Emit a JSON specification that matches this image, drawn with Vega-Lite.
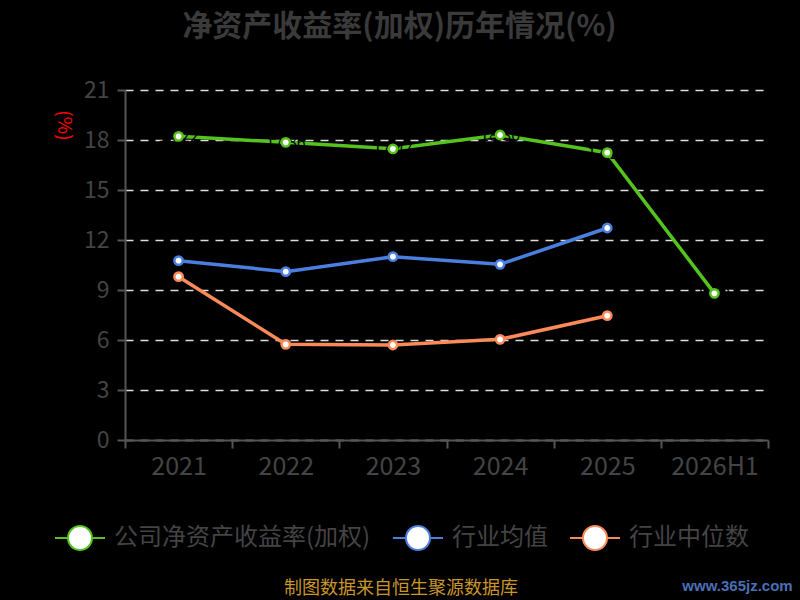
{
  "$schema": "https://vega.github.io/schema/vega-lite/v6.json",
  "autosize": {"type": "none"},
  "padding": {"left": 125, "top": 90, "right": 32, "bottom": 160},
  "width": 643,
  "height": 350,
  "background": "#000000",
  "config": {
    "view": {"stroke": null},
    "font": "Noto Sans CJK SC"
  },
  "title": {
    "text": "净资产收益率(加权)历年情况(%)",
    "fontSize": 30,
    "fontWeight": "bold",
    "color": "#3a3a3a",
    "anchor": "middle",
    "dx": -47,
    "offset": 37,
    "limit": 700
  },
  "data": {
    "values": [
      {"year": "2021", "series": "公司净资产收益率(加权)", "value": 18.22},
      {"year": "2022", "series": "公司净资产收益率(加权)", "value": 17.86},
      {"year": "2023", "series": "公司净资产收益率(加权)", "value": 17.47},
      {"year": "2024", "series": "公司净资产收益率(加权)", "value": 18.30},
      {"year": "2025", "series": "公司净资产收益率(加权)", "value": 17.24},
      {"year": "2026H1", "series": "公司净资产收益率(加权)", "value": 8.80},
      {"year": "2021", "series": "行业均值", "value": 10.76},
      {"year": "2022", "series": "行业均值", "value": 10.10},
      {"year": "2023", "series": "行业均值", "value": 11.00},
      {"year": "2024", "series": "行业均值", "value": 10.54},
      {"year": "2025", "series": "行业均值", "value": 12.72},
      {"year": "2021", "series": "行业中位数", "value": 9.80},
      {"year": "2022", "series": "行业中位数", "value": 5.74},
      {"year": "2023", "series": "行业中位数", "value": 5.70},
      {"year": "2024", "series": "行业中位数", "value": 6.04},
      {"year": "2025", "series": "行业中位数", "value": 7.46}
    ]
  },
  "encoding": {
    "x": {
      "field": "year",
      "type": "ordinal",
      "bandPosition": 0.5,
      "sort": ["2021", "2022", "2023", "2024", "2025", "2026H1"],
      "scale": {"type": "band", "domain": ["2021", "2022", "2023", "2024", "2025", "2026H1"], "paddingInner": 0, "paddingOuter": 0},
      "axis": {
        "title": "www.365jz.com",
        "titleColor": "#4a6fb5",
        "titleFontSize": 15,
        "titleFontWeight": "bold",
        "titleFont": "Liberation Sans",
        "titleX": 612,
        "titleY": 145,
        "titleAlign": "center",
        "titleBaseline": "middle",
        "titleLimit": 200,
        "labelAngle": 0,
        "labelFontSize": 25,
        "labelColor": "#444444",
        "labelPadding": 6,
        "tickBand": "extent",
        "tickSize": 8,
        "tickColor": "#555555",
        "tickWidth": 2,
        "domainColor": "#555555",
        "domainWidth": 2,
        "grid": false
      }
    },
    "y": {
      "field": "value",
      "type": "quantitative",
      "scale": {"domain": [0, 21], "nice": false},
      "axis": {
        "title": "(%)",
        "titleColor": "#ff0000",
        "titleFontSize": 19,
        "titleFontWeight": "normal",
        "titleAngle": 90,
        "titleX": -62,
        "titleY": 35,
        "titleAlign": "center",
        "titleBaseline": "middle",
        "values": [0, 3, 6, 9, 12, 15, 18, 21],
        "labelFontSize": 23,
        "labelColor": "#444444",
        "labelPadding": 8,
        "tickSize": 8,
        "tickColor": "#555555",
        "tickWidth": 2,
        "domainColor": "#555555",
        "domainWidth": 2,
        "grid": true,
        "gridColor": "#dddddd",
        "gridDash": [8, 7],
        "gridWidth": 1.5
      }
    },
    "color": {
      "field": "series",
      "type": "nominal",
      "sort": ["公司净资产收益率(加权)", "行业均值", "行业中位数"],
      "scale": {
        "domain": ["公司净资产收益率(加权)", "行业均值", "行业中位数"],
        "range": ["#55c21d", "#4a7fdf", "#fa8b58"]
      },
      "legend": {
        "orient": "none",
        "direction": "horizontal",
        "legendX": -71,
        "legendY": 422,
        "padding": 0,
        "title": "制图数据来自恒生聚源数据库",
        "titleOrient": "bottom",
        "titleAnchor": "middle",
        "titleColor": "#c8962a",
        "titleFontSize": 18,
        "titleFontWeight": "normal",
        "titlePadding": 26,
        "titleLimit": 600,
        "symbolType": "M-1,0L-0.48,0M0.48,0L1,0M-0.48,0A0.48,0.48,0,1,1,0.48,0A0.48,0.48,0,1,1,-0.48,0",
        "symbolSize": 2500,
        "symbolFillColor": "#ffffff",
        "symbolStrokeWidth": 2,
        "labelFontSize": 24,
        "labelColor": "#444444",
        "labelOffset": 8,
        "labelLimit": 400,
        "columnPadding": 18
      }
    }
  },
  "layer": [
    {
      "mark": {"type": "line", "strokeWidth": 3.5}
    },
    {
      "transform": [{"filter": "datum.series === '公司净资产收益率(加权)'"}],
      "mark": {"type": "text", "fontSize": 16, "baseline": "middle", "dy": 1},
      "encoding": {
        "text": {"field": "value", "type": "quantitative", "format": ".2f"},
        "color": {"value": "#000000"}
      }
    },
    {
      "mark": {"type": "point", "filled": false, "fill": "#ffffff", "fillOpacity": 1, "size": 70, "strokeWidth": 2.5, "opacity": 1}
    }
  ]
}
